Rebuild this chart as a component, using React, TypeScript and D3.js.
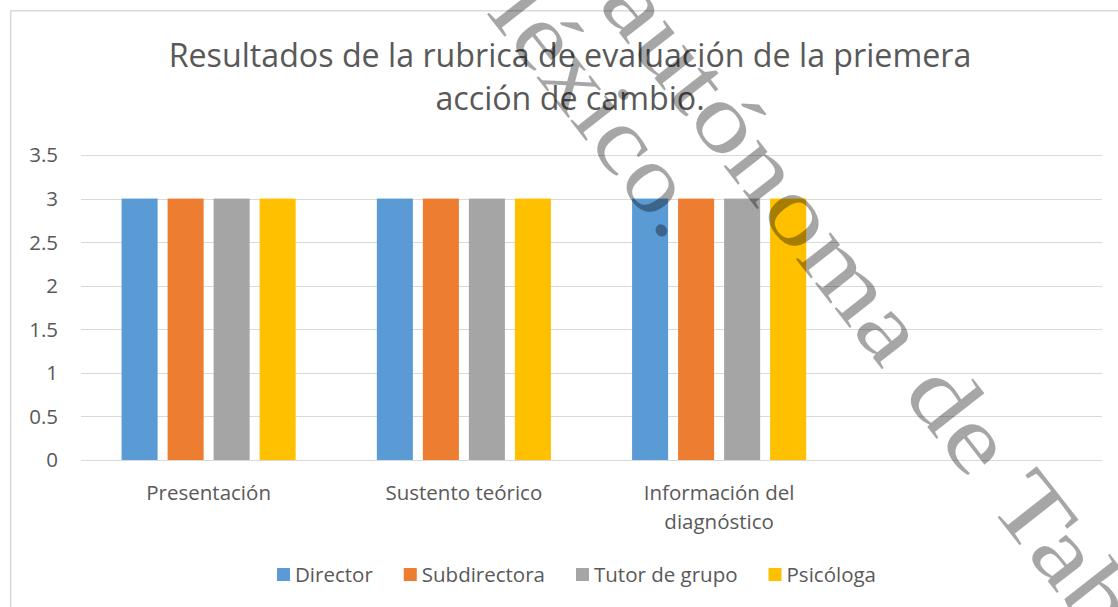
import React, { useEffect, useRef } from "react";
import * as d3 from "d3";

// ---------- data ----------
const categories = ["Presentación", "Sustento teórico", "Información del diagnóstico", ""];
const seriesNames = ["Director", "Subdirectora", "Tutor de grupo", "Psicóloga"];
const director: (number | null)[] = [3, 3, 3, null];
const subdirectora: (number | null)[] = [3, 3, 3, null];
const tutorDeGrupo: (number | null)[] = [3, 3, 3, null];
const psicologa: (number | null)[] = [3, 3, 3, null];
const seriesValues = [director, subdirectora, tutorDeGrupo, psicologa];
const seriesColors = ["#5B9BD5", "#ED7D31", "#A5A5A5", "#FFC000"];
const yTicks = [0, 0.5, 1, 1.5, 2, 2.5, 3, 3.5];
const titleLines = ["Resultados de la rubrica de evaluación de la priemera", "acción de cambio."];
const watermarkLines = ["Universidad Juárez autónoma de Tabasco", "México."];

// ---------- layout ----------
const W = 1118;
const H = 607;
const M = { left: 81, right: 1102, top: 155, bottom: 460 };
const FONT = "'Open Sans', 'Noto Sans', sans-serif";
const TEXT = "#595959";
const GRID = "#D9D9D9";

export default function App() {
  const ref = useRef<SVGSVGElement | null>(null);

  useEffect(() => {
    const svg = d3.select(ref.current);
    svg.selectAll("*").remove();

    svg.append("rect").attr("width", W).attr("height", H).attr("fill", "#fff");
    svg
      .append("rect")
      .attr("x", 10.75)
      .attr("y", 10.75)
      .attr("width", 1200)
      .attr("height", 700)
      .attr("fill", "none")
      .attr("stroke", GRID)
      .attr("stroke-width", 1.5);

    // title
    const title = svg
      .append("text")
      .attr("text-anchor", "middle")
      .attr("fill", TEXT)
      .style("font-family", FONT)
      .style("font-size", "32.2px");
    titleLines.forEach((l, i) => {
      title
        .append("tspan")
        .attr("x", 570)
        .attr("y", 67 + i * 43)
        .text(l);
    });

    const y = d3.scaleLinear().domain([0, 3.5]).range([M.bottom, M.top]);
    const x0 = d3
      .scaleBand<string>()
      .domain(categories)
      .range([M.left, M.right])
      .paddingInner(0.318)
      .paddingOuter(0.159);
    const x1 = d3
      .scaleBand<string>()
      .domain(seriesNames)
      .range([0, x0.bandwidth()])
      .paddingInner(0.217);

    // gridlines
    svg
      .append("g")
      .selectAll("line")
      .data(yTicks)
      .join("line")
      .attr("x1", M.left)
      .attr("x2", M.right)
      .attr("y1", (d) => Math.round(y(d)) + 0.5)
      .attr("y2", (d) => Math.round(y(d)) + 0.5)
      .attr("stroke", GRID)
      .attr("stroke-width", 1.2);

    // y tick labels
    svg
      .append("g")
      .selectAll("text")
      .data(yTicks)
      .join("text")
      .attr("x", 58)
      .attr("y", (d) => y(d))
      .attr("dy", "0.36em")
      .attr("text-anchor", "end")
      .attr("fill", TEXT)
      .style("font-family", FONT)
      .style("font-size", "20.5px")
      .text((d) => String(d));

    // bars
    const barData: { cat: string; s: string; v: number; c: string }[] = [];
    categories.forEach((cat, ci) => {
      seriesNames.forEach((s, si) => {
        const v = seriesValues[si][ci];
        if (v != null) barData.push({ cat, s, v, c: seriesColors[si] });
      });
    });
    svg
      .append("g")
      .selectAll("rect")
      .data(barData)
      .join("rect")
      .attr("x", (d) => (x0(d.cat) as number) + (x1(d.s) as number))
      .attr("width", x1.bandwidth())
      .attr("y", (d) => y(d.v))
      .attr("height", (d) => y(0) - y(d.v))
      .attr("fill", (d) => d.c);

    // x labels (wrapped)
    const xl = svg
      .append("g")
      .attr("fill", TEXT)
      .style("font-family", FONT)
      .style("font-size", "20.5px");
    categories.forEach((cat) => {
      if (!cat) return;
      const cx = (x0(cat) as number) + x0.bandwidth() / 2;
      const t = xl.append("text").attr("text-anchor", "middle");
      const words = cat.split(" ");
      const lines: string[] = [];
      let cur = "";
      const probe = xl.append("text");
      words.forEach((w) => {
        const test = cur ? cur + " " + w : w;
        probe.text(test);
        const wd = (probe.node() as SVGTextElement).getComputedTextLength();
        if (wd > 200 && cur) {
          lines.push(cur);
          cur = w;
        } else cur = test;
      });
      lines.push(cur);
      probe.remove();
      lines.forEach((l, i) => {
        t.append("tspan").attr("x", cx).attr("y", 500 + i * 29).text(l);
      });
    });

    // legend
    const lg = svg.append("g").style("font-family", FONT).style("font-size", "20.5px");
    const sq = 13;
    const gapText = 5;
    const gapItem = 31;
    const items = seriesNames.map((n, i) => {
      const g = lg.append("g");
      g.append("rect").attr("width", sq).attr("height", sq).attr("y", 568).attr("fill", seriesColors[i]);
      const t = g
        .append("text")
        .attr("x", sq + gapText)
        .attr("y", 581.5)
        .attr("fill", TEXT)
        .text(n);
      const w = (t.node() as SVGTextElement).getComputedTextLength();
      return { g, w: sq + gapText + w };
    });
    const total = items.reduce((a, b) => a + b.w, 0) + gapItem * (items.length - 1);
    let lx = 576.5 - total / 2;
    items.forEach((it) => {
      it.g.attr("transform", `translate(${lx},0)`);
      lx += it.w + gapItem;
    });

    // watermark
    const WM_ANGLE = 52;
    const WM_SIZE = 95;
    const wm = svg
      .append("g")
      .attr("fill", "#000")
      .attr("fill-opacity", 0.35)
      .style("font-family", "'Liberation Serif', 'DejaVu Serif', serif")
      .style("font-size", WM_SIZE + "px");
    const wmLine = (text: string, anchorIdx: number, px: number, py: number, stretch: number) => {
      const g = wm
        .append("g")
        .attr("transform", `translate(${px},${py}) rotate(${WM_ANGLE}) scale(${stretch},1)`);
      const t = g.append("text").attr("x", 0).attr("y", 0).text(text);
      const node = t.node() as SVGTextElement;
      const ext = node.getExtentOfChar(anchorIdx);
      t.attr("x", -(ext.x + ext.width / 2));
    };
    const l1 = watermarkLines[0];
    wmLine(l1, l1.lastIndexOf("T"), 1006, 528, 1.24);
    const l2 = watermarkLines[1];
    wmLine(l2, l2.length - 1, 658, 233, 1.13);
  }, []);

  return (
    <svg
      ref={ref}
      width={W}
      height={H}
      style={{ position: "absolute", left: 0, top: 0, display: "block" }}
    />
  );
}
